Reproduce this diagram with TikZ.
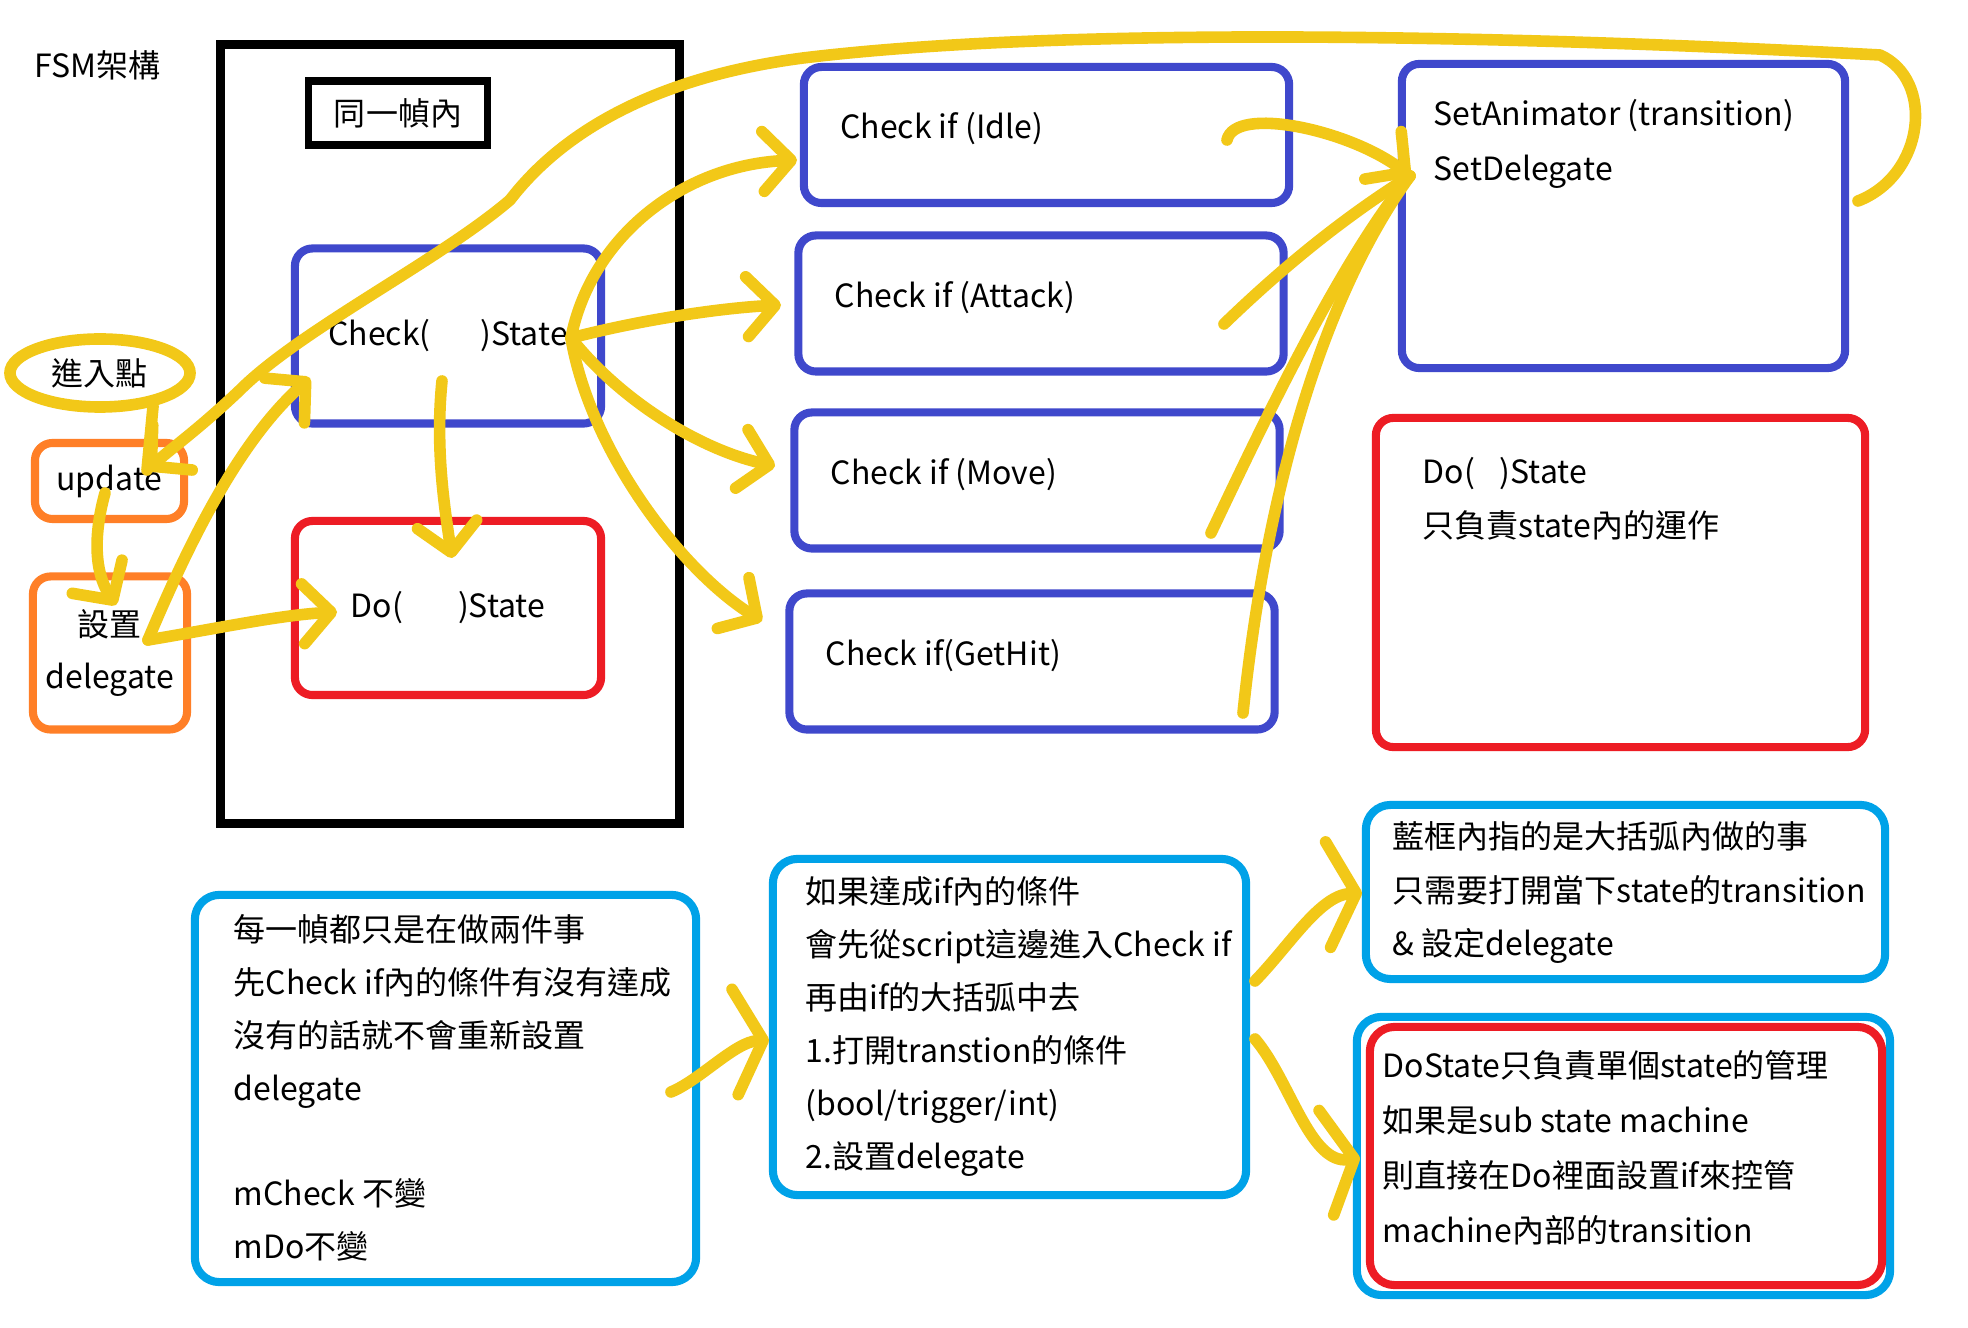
\documentclass[tikz,border=0pt]{standalone}
\usepackage{fontspec}
\setmainfont{Noto Sans CJK TC}
\usetikzlibrary{arrows.meta,shapes.geometric}

\definecolor{indigo}{RGB}{63,72,204}
\definecolor{redbox}{RGB}{237,28,36}
\definecolor{orangebox}{RGB}{255,127,39}
\definecolor{cyanbox}{RGB}{0,162,232}
\definecolor{marker}{RGB}{242,200,24}

\tikzset{
  box/.style={draw, rounded corners=5pt, line width=2.3pt, inner sep=0pt},
  checkbox/.style={box, draw=indigo},
  dobox/.style={box, draw=redbox},
  setbox/.style={box, draw=orangebox},
  notebox/.style={box, draw=cyanbox, rounded corners=7pt},
  frame/.style={draw=black, line width=2.6pt, inner sep=0pt},
  line/.style={anchor=base west, inner sep=0pt},
  hl/.style={draw=marker, line width=3.3pt, line cap=round, line join=round},
  hlarrow/.style={hl, -{Straight Barb[length=8pt,width=17pt,round]}},
  bigarrow/.style={hl, -{Straight Barb[length=8pt,width=30pt,round]}},
}

\begin{document}
\begin{tikzpicture}[x=0.01cm, y=-0.01cm, font=\fontsize{9.1pt}{15pt}\selectfont]
\fill[white] (0,0) rectangle (1968,1328);
\useasboundingbox (0,0) rectangle (1968,1328);

\node[line] (title) at (34,78) {FSM架構};

% one frame
\node[frame, minimum width=4.58cm, minimum height=7.78cm] (frame) at (450,434) {};
\node[frame, line width=2.1pt, minimum width=1.79cm, minimum height=0.64cm] (same) at (398,113) {同一幀內};
\node[checkbox, minimum width=3.06cm, minimum height=1.75cm] (chk) at (448,336) {Check(\hspace{5mm})State};
\node[dobox, minimum width=3.06cm, minimum height=1.74cm] (dob) at (448,608) {Do(\hspace{5.5mm})State};

% entry
\node[ellipse, draw=marker, line width=3.3pt, inner sep=0pt, minimum width=1.8cm, minimum height=0.68cm] (ent) at (100,373) {進入點};
\node[setbox, minimum width=1.49cm, minimum height=0.76cm] (upd) at (109.5,481) {update};
\node[setbox, minimum width=1.54cm, minimum height=1.53cm, align=center] (dlg) at (110,653) {設置\\delegate};

% checks
\foreach \n/\x/\y/\t in {idle/1046.5/135/Check if (Idle), atk/1041/303.5/Check if (Attack), mov/1037/480.5/Check if (Move), hit/1032/661.5/Check if(GetHit)}{
  \node[checkbox, minimum width=4.85cm, minimum height=1.36cm] (\n) at (\x,\y) {};
  \node[line] (\n t) at ({\x-207},{\y+4}) {\t};
}

\node[checkbox, minimum width=4.43cm, minimum height=3.04cm] (anim) at (1623.5,216) {};
\foreach \t [count=\i] in {SetAnimator (transition), SetDelegate}
  \node[line] (anim\i) at (1433,{126+55*(\i-1)}) {\t};

\node[dobox, minimum width=4.89cm, minimum height=3.29cm] (dor) at (1620.5,582.5) {};
\foreach \t [count=\i] in {Do(\hspace{2.5mm})State, 只負責state內的運作}
  \node[line] (dor\i) at (1422,{484+54*(\i-1)}) {\t};

% notes
\node[notebox, minimum width=5.01cm, minimum height=3.87cm] (nA) at (445.5,1088.5) {};
\foreach \t [count=\i] in {每一幀都只是在做兩件事, 先Check if內的條件有沒有達成, 沒有的話就不會重新設置, delegate, {}, mCheck 不變, mDo不變}
  \node[line] (nA\i) at (233,{942+52.8*(\i-1)}) {\t};

\node[notebox, minimum width=4.73cm, minimum height=3.36cm] (nB) at (1009.5,1027) {};
\foreach \t [count=\i] in {如果達成if內的條件, 會先從script這邊進入Check if, 再由if的大括弧中去, 1.打開transtion的條件, (bool/trigger/int), 2.設置delegate}
  \node[line] (nB\i) at (805,{904+53*(\i-1)}) {\t};

\node[notebox, minimum width=5.19cm, minimum height=1.74cm] (nC) at (1625.5,892) {};
\foreach \t [count=\i] in {藍框內指的是大括弧內做的事, 只需要打開當下state的transition, \& 設定delegate}
  \node[line] (nC\i) at (1392,{849+53.5*(\i-1)}) {\t};

\node[notebox, minimum width=5.33cm, minimum height=2.78cm] (nD) at (1623.5,1156) {};
\node[dobox, rounded corners=7pt, minimum width=5.12cm, minimum height=2.58cm] (nDin) at (1626,1156) {};
\foreach \t [count=\i] in {DoState只負責單個state的管理, 如果是sub state machine, 則直接在Do裡面設置if來控管, machine內部的transition}
  \node[line] (nD\i) at (1382,{1078+55*(\i-1)}) {\t};

% marker strokes
\coordinate (fan) at (571,338);
\coordinate (hub) at (1410,176);
\coordinate (back) at (1858,201);
\coordinate (updtip) at (147,470);
\coordinate (dlgout) at (148,640);

\draw[hlarrow] (back) .. controls (1925,175) and (1935,80) .. (1880,55)
  .. controls (1600,40) and (1100,22) .. (803,58)
  .. controls (650,78) and (560,135) .. (510,200)
  .. controls (440,260) and (300,330) .. (240,390)
  .. controls (200,428) and (172,448) .. (updtip);
\draw[hl] (ent.-32) -- (updtip);

\draw[hlarrow] (105,493) .. controls (92,540) and (96,575) .. (116,605);
\draw[hlarrow] (dlgout) .. controls (190,540) and (240,440) .. (310,378);
\draw[hlarrow] (dlgout) .. controls (220,628) and (280,615) .. (337,612);
\draw[hlarrow] (442,381) .. controls (435,450) and (445,510) .. (452,558);

\draw[hlarrow] (fan) .. controls (590,240) and (680,165) .. (797,160);
\draw[hlarrow] (fan) .. controls (640,320) and (720,308) .. (781,305);
\draw[hlarrow] (fan) .. controls (620,400) and (700,450) .. (775,466);
\draw[hlarrow] (fan) .. controls (590,450) and (680,570) .. (762,621);

\draw[hlarrow] (1227,140) .. controls (1235,105) and (1350,130) .. (hub);
\draw[hl] (1224,324) .. controls (1280,270) and (1340,220) .. (hub);
\draw[hl] (1211,533) .. controls (1260,430) and (1340,260) .. (hub);
\draw[hl] (1243,713) .. controls (1265,500) and (1320,300) .. (hub);

\draw[bigarrow] (671,1092) .. controls (700,1080) and (735,1042) .. (769,1040);
\draw[bigarrow] (1255,981) .. controls (1290,945) and (1320,895) .. (1362,893);
\draw[bigarrow] (1255,1039) .. controls (1290,1080) and (1310,1165) .. (1360,1158);
\end{tikzpicture}
\end{document}
